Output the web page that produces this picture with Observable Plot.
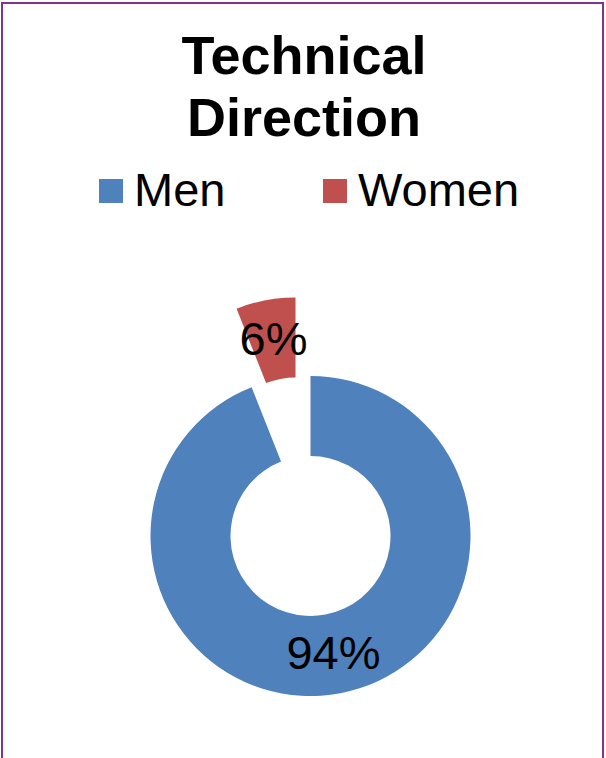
<!DOCTYPE html>
<html><head><meta charset="utf-8">
<script src="https://cdn.jsdelivr.net/npm/d3@7"></script>
<script src="https://cdn.jsdelivr.net/npm/@observablehq/plot@0.6"></script>
<style>
html,body{margin:0;padding:0;background:#fff;}
#frame{position:relative;width:606px;height:758px;overflow:hidden;font-family:"Liberation Sans",Arial,sans-serif;color:#000;}
#border{position:absolute;left:1px;top:2px;width:599px;height:800px;border:2px solid #7E3590;border-bottom:none;}
#title{position:absolute;left:0;width:608px;top:24px;text-align:center;font-weight:bold;font-size:54px;line-height:62px;}
.lg{position:absolute;top:166px;font-size:47px;line-height:47px;white-space:nowrap;}
.sw{position:absolute;width:24px;height:24px;top:179px;}
#chart{position:absolute;left:0;top:230px;}
</style>
</head><body>
<div id="frame">
  <div id="border"></div>
  <div id="title">Technical<br>Direction</div>
  <div id="legend"></div>
  <div id="chart"></div>
</div>
<script>
const categories = ["Men", "Women"];
const values = [94, 6];
const labels = ["94%", "6%"];
const colors = ["#4F81BD", "#C0504D"];

const HOLE = 0.5;            // inner radius as a share of outer radius
const LABEL_R = 0.75;        // label radius as a share of outer radius
const EXPLODE = {Women: 0.5};// slice explosion as a share of outer radius

const rows = categories.map((c, i) => ({category: c, value: values[i], label: labels[i]}));
const arcs = d3.pie().sort(null).value(d => d.value)(rows);
const color = Plot.scale({color: {type: "ordinal", domain: categories, range: colors}});

// legend
const legend = document.getElementById("legend");
const legendPos = [{sw: 99, tx: 134}, {sw: 323, tx: 358}];
categories.forEach((c, i) => {
  const s = document.createElement("div");
  s.className = "sw"; s.style.left = legendPos[i].sw + "px"; s.style.background = color.apply(c);
  legend.appendChild(s);
  const t = document.createElement("div");
  t.className = "lg"; t.style.left = legendPos[i].tx + "px"; t.textContent = c;
  legend.appendChild(t);
});

const labelRows = arcs.map(a => {
  const mid = (a.startAngle + a.endAngle) / 2;
  const e = EXPLODE[a.data.category] || 0;
  return {label: a.data.label, x: (LABEL_R + e) * Math.sin(mid), y: (LABEL_R + e) * Math.cos(mid)};
});

function donut(index, scales) {
  const cx = scales.x(0), cy = scales.y(0), R = scales.x(1) - scales.x(0);
  const arc = d3.arc().innerRadius(R * HOLE).outerRadius(R);
  const g = d3.create("svg:g");
  for (const a of arcs) {
    const mid = (a.startAngle + a.endAngle) / 2;
    const e = (EXPLODE[a.data.category] || 0) * R;
    g.append("path")
      .attr("d", arc(a))
      .attr("fill", color.apply(a.data.category))
      .attr("transform", `translate(${cx + e * Math.sin(mid)},${cy - e * Math.cos(mid)})`);
  }
  return g.node();
}

const plot = Plot.plot({
  width: 606,
  height: 528,
  marginLeft: 150.5,
  marginRight: 135.5,
  marginTop: 146,
  marginBottom: 62,
  x: {domain: [-1, 1], axis: null},
  y: {domain: [-1, 1], axis: null},
  style: {background: "transparent", fontFamily: "'Liberation Sans', Arial, sans-serif", overflow: "visible"},
  marks: [
    donut,
    Plot.text(labelRows, {x: "x", y: "y", text: "label", fontSize: 47, fill: "#000"})
  ]
});
document.getElementById("chart").appendChild(plot);
</script>
</body></html>
